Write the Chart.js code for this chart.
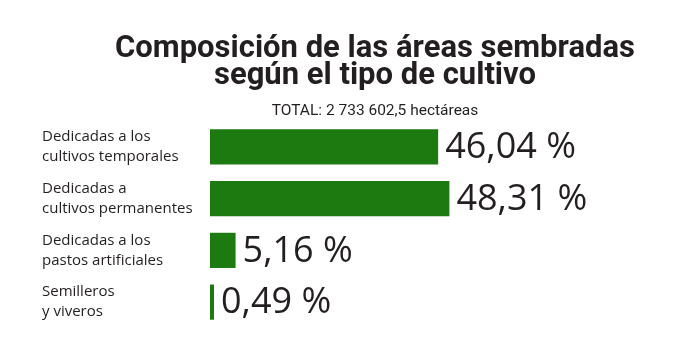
<!DOCTYPE html>
<html>
<head>
<meta charset="utf-8">
<script src="https://cdn.jsdelivr.net/npm/chart.js@4.4.1/dist/chart.umd.min.js"></script>
<style>
  html, body { margin: 0; padding: 0; background: #fff; }
  #wrap { width: 700px; height: 364px; }
</style>
</head>
<body>
<div id="wrap"><canvas id="chart" width="700" height="364"></canvas></div>
<script>
// --- Data ---
const categories = [
  ['Dedicadas a los', 'cultivos temporales'],
  ['Dedicadas a', 'cultivos permanentes'],
  ['Dedicadas a los', 'pastos artificiales'],
  ['Semilleros', 'y viveros']
];
const shares = [46.04, 48.31, 5.16, 0.49];
const valueLabels = ['46,04 %', '48,31 %', '5,16 %', '0,49 %'];
const titleLines = ['Composición de las áreas sembradas', 'según el tipo de cultivo'];
const subtitle = 'TOTAL: 2 733 602,5 hectáreas';

const green = '#1d7a10';
const ink = '#231f20';

// headline + value labels drawn on top of the chart
const textPlugin = {
  id: 'textPlugin',
  afterDatasetsDraw(chart) {
    const ctx = chart.ctx;
    ctx.save();
    ctx.fillStyle = ink;
    ctx.textAlign = 'center';
    ctx.textBaseline = 'alphabetic';
    ctx.font = 'bold 31px Roboto, sans-serif';
    ctx.fillText(titleLines[0], 375, 57);
    ctx.fillText(titleLines[1], 375, 84);
    ctx.font = '15.5px Roboto, sans-serif';
    ctx.fillText(subtitle, 375, 115);

    const meta = chart.getDatasetMeta(0);
    ctx.textAlign = 'left';
    ctx.textBaseline = 'middle';
    ctx.font = '36px "Open Sans", sans-serif';
    meta.data.forEach((bar, i) => {
      ctx.fillText(valueLabels[i], bar.x + 7, bar.y + 1);
    });
    ctx.restore();
  }
};

new Chart(document.getElementById('chart'), {
  type: 'bar',
  data: {
    labels: categories,
    datasets: [{
      data: shares,
      backgroundColor: green,
      borderWidth: 0,
      barPercentage: 0.68,
      categoryPercentage: 1,
      minBarLength: 4
    }]
  },
  options: {
    indexAxis: 'y',
    responsive: false,
    animation: false,
    layout: { padding: { top: 121, bottom: 36, left: 42, right: 44 } },
    plugins: {
      legend: { display: false },
      tooltip: { enabled: false }
    },
    scales: {
      x: {
        min: 0, max: 90,
        display: false
      },
      y: {
        grid: { display: false },
        border: { display: false },
        afterFit(scale) { scale.width = 168; },
        ticks: {
          crossAlign: 'far',
          color: ink,
          font: { family: '"Open Sans", sans-serif', size: 15, lineHeight: 1.33 }
        }
      }
    }
  },
  plugins: [textPlugin]
});
</script>
</body>
</html>
